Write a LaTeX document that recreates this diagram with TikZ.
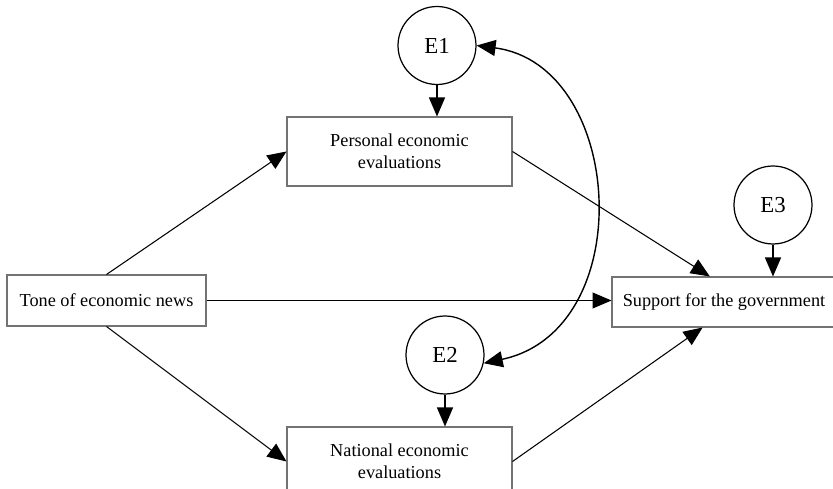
\documentclass[tikz,border=0pt]{standalone}
\usepackage{fontspec}
\setmainfont{Liberation Serif}
\usetikzlibrary{arrows.meta}

\begin{document}
\begin{tikzpicture}
        [x=0.02cm, y=-0.02cm,
         every node/.style={
             font=\fontsize{10.4}{12.5}\selectfont,
             align=center
         },
         box/.style={
             draw=black!55,
             line width=0.6pt,
             minimum width=4.5cm,
             minimum height=1.38cm,
             inner sep=0pt
         },
         err/.style={
             circle,
             draw,
             line width=0.7pt,
             minimum size=1.56cm,
             inner sep=0pt,
             font=\fontsize{13}{15}\selectfont
         },
         link/.style={
             -{Triangle[length=0.38cm,width=0.32cm]},
             line width=0.6pt,
             draw
         }
         ]
        \useasboundingbox (0,0) rectangle (833,489);
        \node[box, minimum width=3.98cm, minimum height=1.02cm] (tone) at (106.5,300.5) {Tone of economic news};
        \node[box] (personal) at (399.5,151.5) {Personal economic\\evaluations};
        \node[box] (national) at (399.5,461.5) {National economic\\evaluations};
        \node[box, minimum width=4.48cm, minimum height=1cm] (support) at (724,302) {Support for the government};
        \node[err] (e1) at (437,45.5) {E1};
        \node[err] (e2) at (445,355) {E2};
        \node[err] (e3) at (773,205) {E3};

        \draw[link] (tone.north) -- (personal.west);
        \draw[link] (tone.south) -- (national.west);
        \draw[link] (tone.east) -- (tone.east -| support.west);
        \draw[link] (personal.east) -- (support.119);
        \draw[link] (national.east) -- (support.230);
        \draw[link, line width=0.8pt] (e1) -- (e1 |- personal.north);
        \draw[link, line width=0.8pt] (e2) -- (e2 |- national.north);
        \draw[link, line width=0.8pt] (e3) -- (e3 |- support.north);
        \draw[{Triangle[length=0.38cm,width=0.32cm]}-{Triangle[length=0.38cm,width=0.32cm]}, line width=0.8pt]
            (e1.east) .. controls (625,65) and (640,330) .. (e2.-12);
    \end{tikzpicture}
\end{document}
